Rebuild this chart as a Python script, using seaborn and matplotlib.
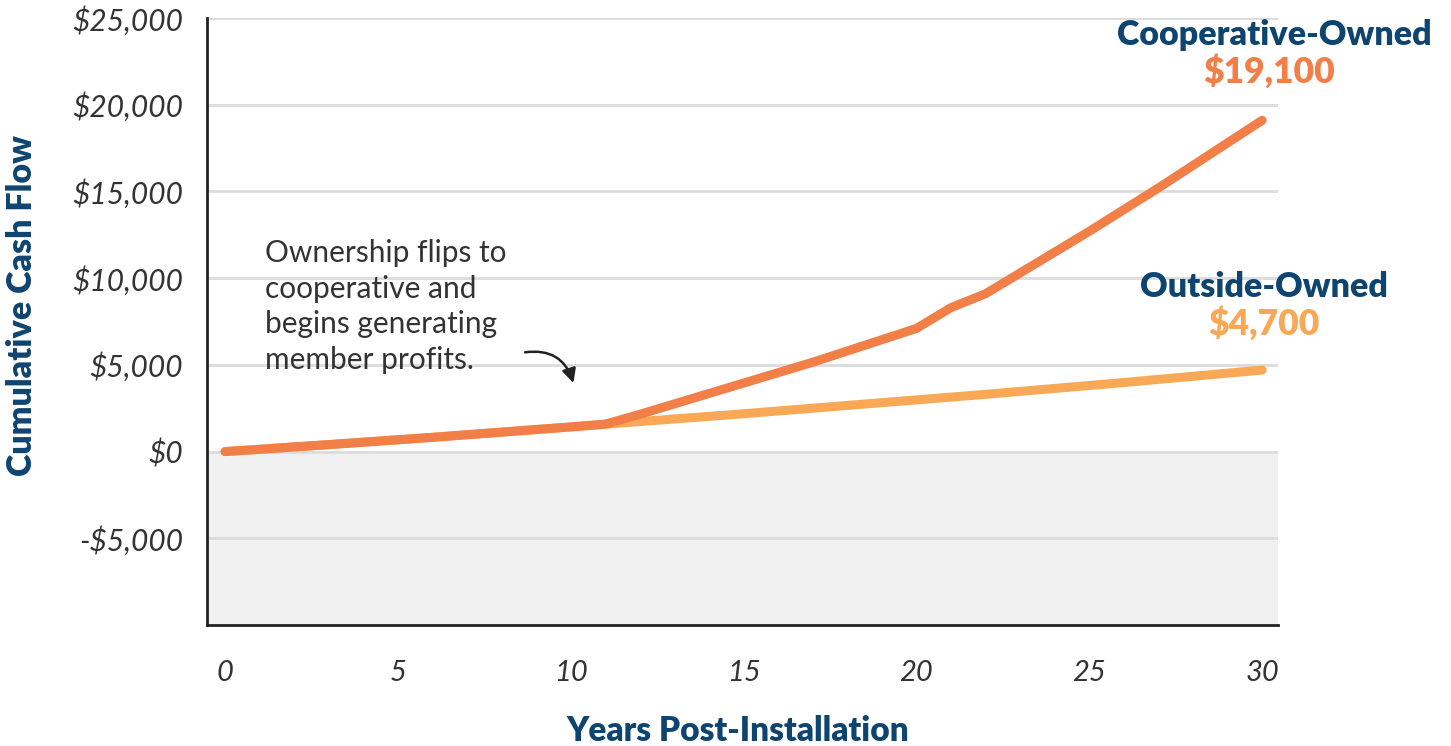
import numpy as np
import pandas as pd
import matplotlib
matplotlib.use("Agg")
import matplotlib.pyplot as plt
import seaborn as sns

# Cumulative cash flow (USD) by year after installation
years = list(range(0, 31))
outside_owned = [0, 130, 270, 400, 540, 680, 820, 970, 1120, 1270, 1420,
                 1580, 1730, 1880, 2030, 2180, 2340, 2500, 2660, 2820, 2980,
                 3140, 3300, 3470, 3640, 3810, 3980, 4160, 4340, 4520, 4700]
cooperative_owned = [0, 130, 270, 400, 540, 680, 820, 970, 1120, 1270, 1420,
                     1580, 2150, 2750, 3350, 3950, 4550, 5150, 5800, 6450, 7100,
                     8300, 9100, 10300, 11500, 12700, 13950, 15200, 16500, 17800, 19100]

series_names = ["Outside-Owned", "Cooperative-Owned"]
series_colors = ["#F9A855", "#F27E48"]
end_labels = ["$4,700", "$19,100"]
y_ticks = [-5000, 0, 5000, 10000, 15000, 20000, 25000]
y_tick_labels = ["-$5,000", "$0", "$5,000", "$10,000", "$15,000", "$20,000", "$25,000"]
x_ticks = [0, 5, 10, 15, 20, 25, 30]

NAVY = "#0E4470"

df = pd.DataFrame({
    "year": years * 2,
    "cash": outside_owned + cooperative_owned,
    "owner": [series_names[0]] * len(years) + [series_names[1]] * len(years),
})

sns.set_theme(style="white")
plt.rcParams["font.family"] = ["Lato", "DejaVu Sans"]

fig = plt.figure(figsize=(14.51, 7.46), dpi=100)
ax = fig.add_axes([0.1427, 0.1622, 0.7381, 0.8137])

ax.set_xlim(-0.52, 30.46)
ax.set_ylim(-10000, 25000)

# shaded negative zone
ax.axhspan(-10000, 0, color="#F1F1F1", zorder=0, lw=0)

# horizontal gridlines
for t in y_ticks:
    ax.axhline(t, color="#DCDCDC", lw=2, zorder=1)

sns.lineplot(data=df, x="year", y="cash", hue="owner", hue_order=series_names,
             palette=series_colors, linewidth=6.5, legend=False, ax=ax,
             zorder=3)
for line in ax.get_lines()[-2:]:
    line.set_solid_capstyle("round")
    line.set_solid_joinstyle("round")

for s in ["top", "right"]:
    ax.spines[s].set_visible(False)
for s in ["left", "bottom"]:
    ax.spines[s].set_color("#222222")
    ax.spines[s].set_linewidth(2)
    ax.spines[s].set_zorder(4)

ax.set_yticks(y_ticks)
ax.set_yticklabels(y_tick_labels, fontsize=21.5, style="italic", color="#333333")
ax.set_xticks(x_ticks)
ax.set_xticklabels([str(v) for v in x_ticks], fontsize=21, style="italic",
                   color="#333333")
ax.tick_params(axis="y", length=0, pad=17)
ax.tick_params(axis="x", length=0, pad=25)

ax.set_xlabel("Years Post-Installation", fontsize=24, fontweight="heavy",
              color=NAVY, va="center")
ax.xaxis.set_label_coords(0.496, -0.175)
ax.set_ylabel("Cumulative Cash Flow", fontsize=24.5, fontweight="heavy",
              color=NAVY, va="center")
ax.yaxis.set_label_coords(-0.173, 0.527)

# end-of-line labels
ax.text(30.35, 24010, series_names[1], ha="center", va="center", fontsize=24.5,
        fontweight="heavy", color=NAVY)
ax.text(30.2, 21900, end_labels[1], ha="center", va="center", fontsize=25.5,
        fontweight="heavy", color=series_colors[1])
ax.text(30.05, 9500, series_names[0], ha="center", va="center", fontsize=24.5,
        fontweight="heavy", color=NAVY)
ax.text(30.05, 7400, end_labels[0], ha="center", va="center", fontsize=25.5,
        fontweight="heavy", color=series_colors[0])

# annotation for the ownership flip
ax.text(1.15, 12250, "Ownership flips to\ncooperative and\nbegins generating\nmember profits.",
        ha="left", va="top", fontsize=21.5, color="#333333", linespacing=1.33)
ax.annotate("", xy=(10.1, 3800), xytext=(8.6, 5700),
            arrowprops=dict(arrowstyle="-|>,head_length=0.7,head_width=0.35",
                            color="#222222", lw=1.8,
                            connectionstyle="arc3,rad=-0.45"))

fig.savefig("out.png", dpi=100)
